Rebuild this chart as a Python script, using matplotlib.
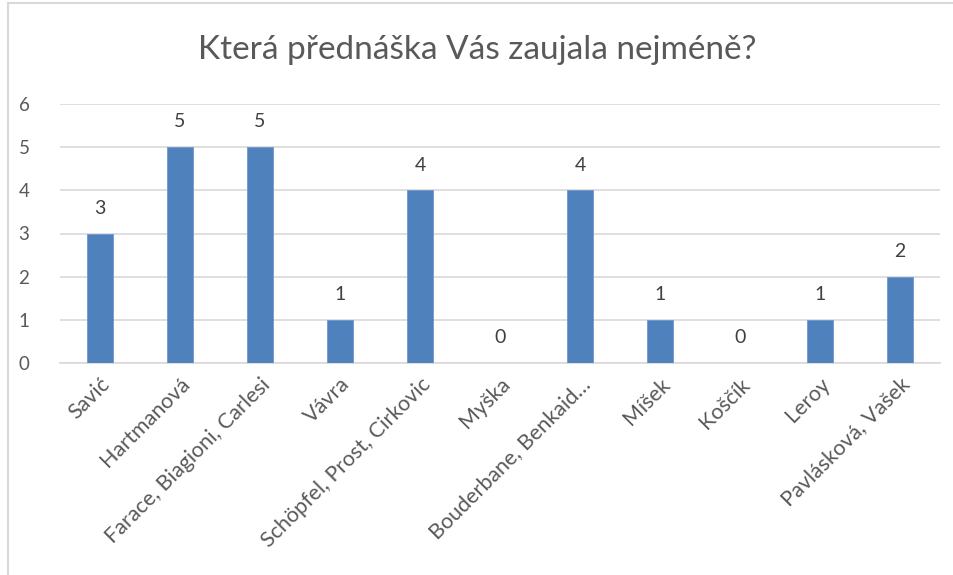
import matplotlib
matplotlib.use("Agg")
import matplotlib.pyplot as plt
from matplotlib.lines import Line2D

plt.rcParams['font.family'] = ['Lato', 'DejaVu Sans']

title = "Která přednáška Vás zaujala nejméně?"
categories = ["Savić", "Hartmanová", "Farace, Biagioni, Carlesi", "Vávra",
              "Schöpfel, Prost, Cirkovic", "Myška", "Bouderbane, Benkaid…",
              "Míšek", "Koščík", "Leroy", "Pavlásková, Vašek"]
values = [3, 5, 5, 1, 4, 0, 4, 1, 0, 1, 2]
yticks = [0, 1, 2, 3, 4, 5, 6]

W, H = 954, 575
fig = plt.figure(figsize=(W / 100, H / 100), dpi=100)
ax = fig.add_axes([60 / W, 1 - 363 / H, 880 / W, 259 / H])

x = list(range(len(categories)))
ax.bar(x, values, width=0.32, color="#4f81bd", edgecolor="#6d98cc", linewidth=0.6, zorder=3)
for xi, v in zip(x, values):
    ax.annotate(str(v), (xi, v), xytext=(0, 12), textcoords="offset points",
                ha="center", va="bottom", fontsize=14, color="#404040")

ax.set_xlim(-0.5, len(categories) - 0.5)
ax.set_ylim(0, 6)
ax.set_yticks(yticks)
ax.set_yticklabels([str(t) for t in yticks], fontsize=13.5, color="#595959")
ax.yaxis.grid(True, color="#d9d9d9", linewidth=1.2, zorder=0)
ax.set_axisbelow(True)
ax.set_xticks(x)
ax.set_xticklabels(categories, rotation=45, ha="right", va="top",
                   rotation_mode="anchor", fontsize=15.5, color="#595959")
ax.tick_params(axis="both", length=0)
ax.tick_params(axis="y", pad=22)
ax.tick_params(axis="x", pad=8)
for s in ["top", "right", "left"]:
    ax.spines[s].set_visible(False)
ax.spines["bottom"].set_color("#d9d9d9")
ax.spines["bottom"].set_linewidth(1.2)

fig.text(0.5, 1 - 50 / H, title, ha="center", va="center", fontsize=24, color="#595959")

# chart frame
fig.add_artist(Line2D([8 / W, 1], [1 - 2.5 / H, 1 - 2.5 / H], color="#d9d9d9", linewidth=1.5,
                      transform=fig.transFigure))
fig.add_artist(Line2D([8 / W, 8 / W], [0, 1 - 2.5 / H], color="#d9d9d9", linewidth=1.5,
                      transform=fig.transFigure))

fig.savefig("out.png", dpi=100)
